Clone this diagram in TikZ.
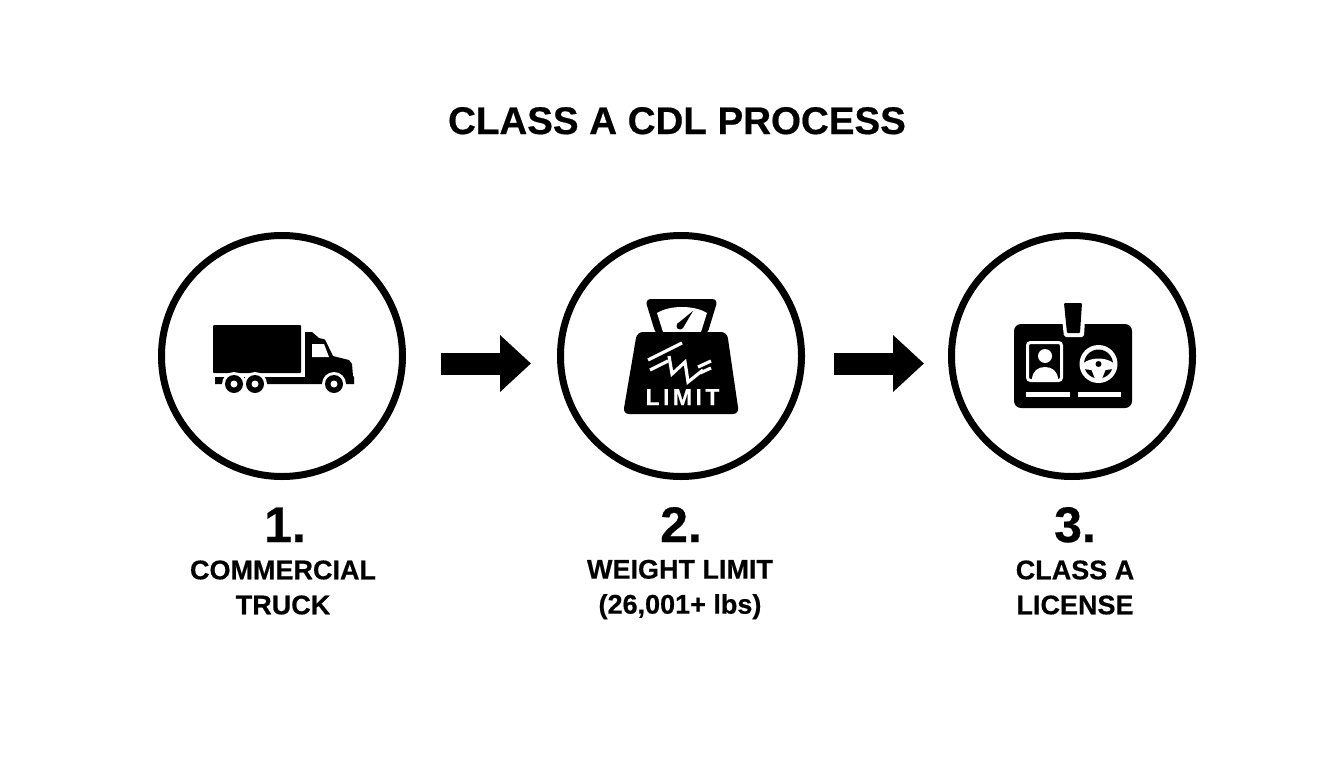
\documentclass[tikz,border=0pt]{standalone}
\usepackage{fontspec}
\setmainfont[BoldFeatures={FakeBold=0.5}]{Liberation Sans}
\newfontfamily\limitfont[LetterSpace=15,BoldFeatures={FakeBold=0.5}]{Liberation Sans}
\usetikzlibrary{arrows.meta,%
                positioning}

\begin{document}
\begin{tikzpicture}[x=1pt,y=-1pt,>={Triangle[length=31pt,width=55pt]}]
  \useasboundingbox (0,0) rectangle (1344,768);
  \tikzset{stepring/.style = {draw,circle,line width=7pt,minimum size=241pt}}
  \tikzset{flowarrow/.style = {->,line width=22pt}}
  \tikzset{titletext/.style = {font=\fontsize{38.5}{40}\selectfont\bfseries,anchor=base}}
  \tikzset{numtext/.style = {font=\fontsize{50}{52}\selectfont\bfseries,anchor=base}}
  \tikzset{steptext/.style = {font=\fontsize{27}{35}\selectfont\bfseries,align=center}}
  \tikzset{halo/.style = {fill=white}}

  \node[titletext] (title) at (677,134) {CLASS A CDL PROCESS};

  \node[stepring] (truck) at (282,356) {};
  \node[stepring,right=151pt of truck] (weight) {};
  \node[stepring,right=143pt of weight] (license) {};

  \draw[flowarrow,shorten <=35pt,shorten >=26pt]
    ([yshift=-7.5pt]truck.east) -- ([yshift=-7.5pt]weight.west);
  \draw[flowarrow,shorten <=29pt,shorten >=24pt]
    ([yshift=-7.5pt]weight.east) -- ([yshift=-7.5pt]license.west);

  % truck
  \fill[rounded corners=1pt] (213,325) rectangle (301,373);
  \fill (305,332) -- (312,332) -- (319,338) -- (325,339.5) -- (333,356) -- (349,360)
    -- (352,364) -- (353,376) -- (354,377) -- (354,384) -- (215,384) -- (215,377)
    -- (305,377) -- cycle;
  \fill[white] (312,344) -- (324,344) -- (329,357) -- (312,357) -- cycle;
  \foreach \wx in {234,255,334}{
    \fill[halo] (\wx,384) circle (12);
  }
  \fill[white] (200,385) rectangle (360,400);
  \foreach \wx in {234,255,334}{
    \fill (\wx,384) circle (9);
    \fill[white] (\wx,384) circle (3.5);
  }

  % weight
  \fill[rounded corners=6pt] (645,299) -- (718,299) -- (707,335) -- (656,335) -- cycle;
  \fill[white] (663,332) -- (657,313) .. controls (670,305) and (694,305) .. (707,313)
    -- (701,332) -- cycle;
  \fill (693,311) -- (683,328) -- (677,324) -- cycle;
  \fill (680,326) circle (3.5);
  \fill[rounded corners=6pt] (637,332) -- (727,332) -- (739,414) -- (623,414) -- cycle;
  \begin{scope}[white,line width=3.2pt]
    \draw (648,360) -- (682,343);
    \draw (650,370) -- (668,361);
    \draw[line join=miter] (669,356) -- (672,374) -- (685,362) -- (688,382) -- (703,370);
    \draw (698,367) -- (711,361);
    \draw (700,373) -- (711,368);
  \end{scope}
  \node[font=\limitfont\fontsize{23}{24}\selectfont\bfseries,white,anchor=base] (limit)
    at (682.5,405) {LIMIT};

  % license
  \fill[rounded corners=7pt] (1014,324) rectangle (1132,408);
  \fill[halo,rounded corners=2pt] (1062,318) -- (1085,318) -- (1084,337) -- (1064,337) -- cycle;
  \fill[rounded corners=1pt] (1064,303) -- (1082,303) -- (1080,333) -- (1067,333) -- cycle;
  \draw[white,line width=3pt,rounded corners=3pt] (1027.5,342.5) rectangle (1061.5,380.5);
  \fill[white] (1045,356) circle (7);
  \fill[white] (1032,380) .. controls (1032,371) and (1038,367) .. (1045,367)
    .. controls (1052,367) and (1058,371) .. (1058,380) -- cycle;
  \begin{scope}[shift={(1098.5,364)}]
    \fill[white] (0,0) circle (19);
    \fill (0,0) circle (14.5);
    \fill[white] (-15,-1) .. controls (-7,-7) and (7,-7) .. (15,-1) -- (15,5) -- (7,6)
      -- (3,16) -- (-3,16) -- (-7,6) -- (-15,5) -- cycle;
    \fill (0,0) circle (3);
  \end{scope}
  \foreach \bx/\bw in {1026/44,1078/43}{
    \fill[white] (\bx,392) rectangle ++(\bw,5);
  }

  \node[numtext] (numtruck) at (285,542) {1.};
  \node[numtext] (numweight) at (681,542) {2.};
  \node[numtext] (numlicense) at (1075,542) {3.};

  \node[steptext] (labtruck) at (283,587.5) {COMMERCIAL\\TRUCK};
  \node[steptext] (labweight) at (680,589.5) {WEIGHT LIMIT\\(26,001+ lbs)};
  \node[steptext] (lablicense) at (1075,587.5) {CLASS A\\LICENSE};
\end{tikzpicture}
\end{document}
